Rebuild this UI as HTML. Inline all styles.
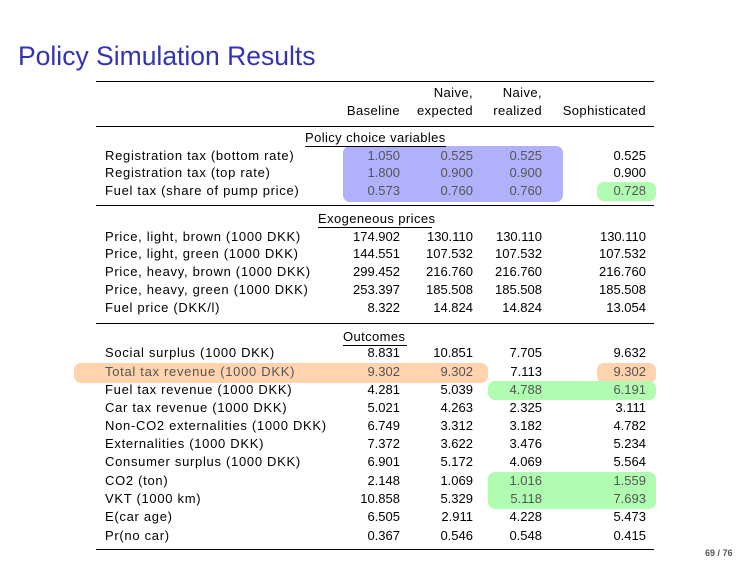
<!DOCTYPE html>
<html><head><meta charset="utf-8"><style>
body{margin:0;width:756px;height:567px;background:#fff;position:relative;overflow:hidden;font-family:"Liberation Sans",sans-serif;color:#000}
.t{position:absolute;font-size:13px;line-height:16px;white-space:nowrap}
.l{left:105px;letter-spacing:0.7px}
.c1{right:356px}.c2{right:283px}.c3{right:214px}.c4{right:110px}
.rule{position:absolute;left:96px;width:558px;height:1px;background:#000}
.hl{position:absolute;border-radius:7px}
.d{color:#555}
.h{letter-spacing:0.4px}
</style></head><body>
<div class="t" style="left:18px;top:40px;font-size:26.5px;line-height:32px;color:#3333b3">Policy Simulation Results</div>

<div class="hl" style="left:343px;top:146px;width:220px;height:56px;background:#b0b0fb"></div>
<div class="hl" style="left:597px;top:182px;width:59px;height:19px;background:#b0fcb0"></div>
<div class="hl" style="left:74px;top:363px;width:414px;height:20px;background:#ffd3ae"></div>
<div class="hl" style="left:597px;top:363px;width:59px;height:20px;background:#ffd3ae"></div>
<div class="hl" style="left:488px;top:381px;width:168px;height:19px;background:#b0fcb0"></div>
<div class="hl" style="left:488px;top:472px;width:168px;height:37px;background:#b0fcb0"></div>

<div class="rule" style="top:81px"></div>
<div class="rule" style="top:126px"></div>
<div class="rule" style="top:205px"></div>
<div class="rule" style="top:323px"></div>
<div class="rule" style="top:549px"></div>

<div class="t c2 h" style="top:85px">Naive,</div><div class="t c3 h" style="top:85px">Naive,</div>
<div class="t c1 h" style="top:103px">Baseline</div><div class="t c2 h" style="top:103px">expected</div><div class="t c3 h" style="top:103px">realized</div><div class="t c4 h" style="top:103px">Sophisticated</div>

<div class="t h" style="left:305px;top:130px">Policy choice variables</div>
<div style="position:absolute;left:305px;top:146px;width:141px;height:1px;background:#000"></div>
<div class="t l" style="top:148px">Registration tax (bottom rate)</div><div class="t c1 d" style="top:148px">1.050</div><div class="t c2 d" style="top:148px">0.525</div><div class="t c3 d" style="top:148px">0.525</div><div class="t c4" style="top:148px">0.525</div>
<div class="t l" style="top:165px">Registration tax (top rate)</div><div class="t c1 d" style="top:165px">1.800</div><div class="t c2 d" style="top:165px">0.900</div><div class="t c3 d" style="top:165px">0.900</div><div class="t c4" style="top:165px">0.900</div>
<div class="t l" style="top:183px">Fuel tax (share of pump price)</div><div class="t c1 d" style="top:183px">0.573</div><div class="t c2 d" style="top:183px">0.760</div><div class="t c3 d" style="top:183px">0.760</div><div class="t c4 d" style="top:183px">0.728</div>

<div class="t h" style="left:318px;top:211px">Exogeneous prices</div>
<div style="position:absolute;left:318px;top:227px;width:114px;height:1px;background:#000"></div>
<div class="t l" style="top:229px">Price, light, brown (1000 DKK)</div><div class="t c1" style="top:229px">174.902</div><div class="t c2" style="top:229px">130.110</div><div class="t c3" style="top:229px">130.110</div><div class="t c4" style="top:229px">130.110</div>
<div class="t l" style="top:246px">Price, light, green (1000 DKK)</div><div class="t c1" style="top:246px">144.551</div><div class="t c2" style="top:246px">107.532</div><div class="t c3" style="top:246px">107.532</div><div class="t c4" style="top:246px">107.532</div>
<div class="t l" style="top:264px">Price, heavy, brown (1000 DKK)</div><div class="t c1" style="top:264px">299.452</div><div class="t c2" style="top:264px">216.760</div><div class="t c3" style="top:264px">216.760</div><div class="t c4" style="top:264px">216.760</div>
<div class="t l" style="top:282px">Price, heavy, green (1000 DKK)</div><div class="t c1" style="top:282px">253.397</div><div class="t c2" style="top:282px">185.508</div><div class="t c3" style="top:282px">185.508</div><div class="t c4" style="top:282px">185.508</div>
<div class="t l" style="top:300px">Fuel price (DKK/l)</div><div class="t c1" style="top:300px">8.322</div><div class="t c2" style="top:300px">14.824</div><div class="t c3" style="top:300px">14.824</div><div class="t c4" style="top:300px">13.054</div>

<div class="t h" style="left:343px;top:329px">Outcomes</div>
<div style="position:absolute;left:343px;top:345px;width:64px;height:1px;background:#000"></div>
<div class="t l" style="top:345px">Social surplus (1000 DKK)</div><div class="t c1" style="top:345px">8.831</div><div class="t c2" style="top:345px">10.851</div><div class="t c3" style="top:345px">7.705</div><div class="t c4" style="top:345px">9.632</div>
<div class="t l d" style="top:364px">Total tax revenue (1000 DKK)</div><div class="t c1 d" style="top:364px">9.302</div><div class="t c2 d" style="top:364px">9.302</div><div class="t c3" style="top:364px">7.113</div><div class="t c4 d" style="top:364px">9.302</div>
<div class="t l" style="top:382px">Fuel tax revenue (1000 DKK)</div><div class="t c1" style="top:382px">4.281</div><div class="t c2" style="top:382px">5.039</div><div class="t c3 d" style="top:382px">4.788</div><div class="t c4 d" style="top:382px">6.191</div>
<div class="t l" style="top:400px">Car tax revenue (1000 DKK)</div><div class="t c1" style="top:400px">5.021</div><div class="t c2" style="top:400px">4.263</div><div class="t c3" style="top:400px">2.325</div><div class="t c4" style="top:400px">3.111</div>
<div class="t l" style="top:418px">Non-CO2 externalities (1000 DKK)</div><div class="t c1" style="top:418px">6.749</div><div class="t c2" style="top:418px">3.312</div><div class="t c3" style="top:418px">3.182</div><div class="t c4" style="top:418px">4.782</div>
<div class="t l" style="top:436px">Externalities (1000 DKK)</div><div class="t c1" style="top:436px">7.372</div><div class="t c2" style="top:436px">3.622</div><div class="t c3" style="top:436px">3.476</div><div class="t c4" style="top:436px">5.234</div>
<div class="t l" style="top:454px">Consumer surplus (1000 DKK)</div><div class="t c1" style="top:454px">6.901</div><div class="t c2" style="top:454px">5.172</div><div class="t c3" style="top:454px">4.069</div><div class="t c4" style="top:454px">5.564</div>
<div class="t l" style="top:473px">CO2 (ton)</div><div class="t c1" style="top:473px">2.148</div><div class="t c2" style="top:473px">1.069</div><div class="t c3 d" style="top:473px">1.016</div><div class="t c4 d" style="top:473px">1.559</div>
<div class="t l" style="top:491px">VKT (1000 km)</div><div class="t c1" style="top:491px">10.858</div><div class="t c2" style="top:491px">5.329</div><div class="t c3 d" style="top:491px">5.118</div><div class="t c4 d" style="top:491px">7.693</div>
<div class="t l" style="top:509px">E(car age)</div><div class="t c1" style="top:509px">6.505</div><div class="t c2" style="top:509px">2.911</div><div class="t c3" style="top:509px">4.228</div><div class="t c4" style="top:509px">5.473</div>
<div class="t l" style="top:528px">Pr(no car)</div><div class="t c1" style="top:528px">0.367</div><div class="t c2" style="top:528px">0.546</div><div class="t c3" style="top:528px">0.548</div><div class="t c4" style="top:528px">0.415</div>

<div class="t" style="left:705px;top:547px;font-size:9px;line-height:12px;font-weight:bold;color:#555">69 / 76</div>
</body></html>
